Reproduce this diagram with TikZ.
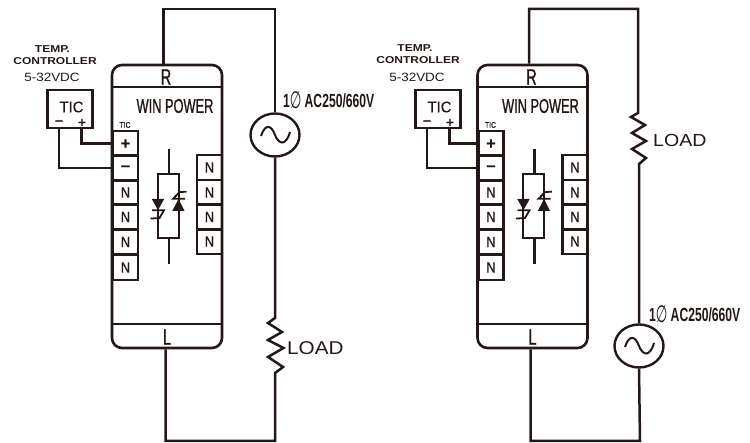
\documentclass[tikz,border=0pt]{standalone}
\usepackage{fontspec}
\setmainfont{Liberation Sans}
\newfontfamily\condf[FakeStretch=0.64,FakeBold=1]{Liberation Sans}
\newfontfamily\condb[FakeStretch=0.64]{Liberation Sans Bold}
\newfontfamily\wideb[FakeStretch=1.2]{Liberation Sans Bold}
\newfontfamily\widef[FakeStretch=1.12]{Liberation Sans}
\newfontfamily\nf[FakeStretch=0.85,FakeBold=0.8]{Liberation Sans}
\newfontfamily\ticf[FakeStretch=0.95,FakeBold=0.5]{Liberation Sans}
\newfontfamily\symf{DejaVu Sans}
\newfontfamily\symb[FakeBold=1.5]{DejaVu Sans Bold}
\usetikzlibrary{shapes.geometric}
\definecolor{ink}{HTML}{231815}
\tikzset{
  wire/.style={draw=ink,line width=2.5pt,line join=miter},
  term/.style={draw=ink,line width=2.6pt,minimum width=25pt,minimum height=25pt,inner sep=0pt,text=ink,font=\nf\fontsize{15}{15}\selectfont},
  label/.style={inner sep=0pt,text=ink,align=center},
  src/.style={draw=ink,line width=2.4pt,ellipse,minimum width=49pt,minimum height=43pt,inner sep=0pt},
  fillsym/.style={fill=ink,draw=none}
}
\newcommand{\phisym}{{\symf\fontsize{19}{19}\selectfont\raisebox{-1pt}{\scalebox{0.7}[1.25]{∅}}}}
\newcommand{\sinewave}[1]{\draw[wire,line width=2pt,shift={(#1.center)}] (-14,1) .. controls (-10,-11) and (-4,-11) .. (0,0) .. controls (4,10) and (11,11) .. (15,-3);}
\newcommand{\ctrl}[2]{%
  \begin{scope}[xshift=#2pt,name prefix=#1-]
    \node[draw=ink,line width=2.4pt,minimum width=45pt,minimum height=38pt,inner sep=0pt] (tic) at (70,109) {};
    \node[label,font=\ticf\fontsize{15.5}{15.5}\selectfont] (ticl) at (71.5,107) {TIC};
    \node[label] (minus) at (59,122.5) {\symb\fontsize{11}{11}\selectfont −};
    \node[label] (plus) at (82,122.5) {\symb\fontsize{11}{11}\selectfont +};
    \coordinate (tm) at (59,128);
    \coordinate (tp) at (81.5,128);
  \end{scope}}
\newcommand{\module}[2]{%
  \begin{scope}[xshift=#2pt,name prefix=#1-]
    \node[draw=ink,line width=2.6pt,rounded corners=10pt,minimum width=110pt,minimum height=283pt,inner sep=0pt] (body) at (167,206.5) {};
    \coordinate (rl) at (112,87); \coordinate (rr) at (222,87);
    \coordinate (ll) at (112,324); \coordinate (lr) at (222,324);
    \draw[wire] (rl) -- (rr);
    \draw[wire,line width=1.7pt] (ll) -- (lr);
    \node[label,font=\condf\fontsize{22.5}{22.5}\selectfont] (R) at (166,77) {R};
    \node[label,font=\condf\fontsize{22.5}{22.5}\selectfont] (L) at (167,337) {L};
    \node[label,font=\condf\fontsize{20}{20}\selectfont] (win) at (175,106) {WIN POWER};
    \node[label,font=\nf\fontsize{8}{8}\selectfont] (small) at (125,125) {TIC};
    \node[term] (tplus) at (125.5,143.5) {\symb\fontsize{13}{13}\selectfont +};
    \node[term] (tminus) at (125.5,168) {\symb\fontsize{13}{13}\selectfont −};
    \node[term] (n1) at (125.5,192.5) {N};
    \node[term] (n2) at (125.5,217) {N};
    \node[term] (n3) at (125.5,242) {N};
    \node[term] (n4) at (125.5,267.5) {N};
    \node[term] (m1) at (209.5,167.5) {N};
    \node[term] (m2) at (209.5,192.5) {N};
    \node[term] (m3) at (209.5,217) {N};
    \node[term] (m4) at (209.5,241.5) {N};
    % thyristor pair
    \coordinate (st) at (169,149); \coordinate (sb) at (169,264);
    \coordinate (bt) at (169,174); \coordinate (bb) at (169,238);
    \draw[wire,line width=2.2pt] (157.7,174) rectangle (178.7,238);
    \draw[wire,line width=2.2pt] (st) -- (bt);
    \draw[wire,line width=2.2pt] (bb) -- (sb);
    \fill[fillsym] (151.8,199) -- (164.2,199) -- (158,210) -- cycle;
    \fill[fillsym] (172.3,211) -- (184.6,211) -- (178.5,199) -- cycle;
    \draw[wire,line width=1.8pt] (152,210.3) -- (164,210.3) -- (159.5,218) -- (150.5,218.6);
    \draw[wire,line width=1.8pt] (185,198.8) -- (173,198.8) -- (179.5,192.2) -- (186.5,191.6);
  \end{scope}}
\begin{document}
\begin{tikzpicture}[x=1pt,y=-1pt]
\useasboundingbox (0,0) rectangle (750,443);
% ---- left diagram
\module{A}{0}
\ctrl{A}{0}
\node[label,font=\wideb\fontsize{10}{10}\selectfont] (ta1) at (52.5,49) {TEMP.};
\node[label,font=\wideb\fontsize{10}{10}\selectfont] (ta2) at (55,61) {CONTROLLER};
\node[label,font=\widef\fontsize{12}{12}\selectfont] (ta3) at (52,77) {5-32VDC};
\draw[wire] (A-tp) |- (A-tplus.west);
\draw[wire] (A-tm) |- (A-tminus.west);
\node[src] (acA) at (275,135) {};
\sinewave{acA}
\coordinate (A1) at (163.5,9);
\coordinate (A2) at (275,9);
\coordinate (A3) at (275,441);
\coordinate (A4) at (165.5,441);
\coordinate (rA) at (275,318);
\coordinate (rB) at (275,373);
\draw[wire] (A-body.north -| A1) -- (A1) -- (A2) -- (acA.north);
\draw[wire] (acA.south) -- (rA) -- (268,323) -- (282,332) -- (268,340) -- (283.5,348) -- (268,357) -- (283,367) -- (rB) -- (A3) -- (A4) -- (A-body.south -| A4);
\node[label,anchor=west] (va) at (283,100) {\condb\fontsize{19}{19}\selectfont 1\phisym\,AC250/660V};
\node[label,font=\widef\fontsize{18.5}{18.5}\selectfont,anchor=west] (la) at (287,348) {LOAD};
% ---- right diagram
\module{B}{365.5}
\ctrl{B}{368}
\node[label,font=\wideb\fontsize{10}{10}\selectfont] (tb1) at (415,48) {TEMP.};
\node[label,font=\wideb\fontsize{10}{10}\selectfont] (tb2) at (418,60) {CONTROLLER};
\node[label,font=\widef\fontsize{12}{12}\selectfont] (tb3) at (417,77) {5-32VDC};
\draw[wire] (B-tp) |- (B-tplus.west);
\draw[wire] (B-tm) |- (B-tminus.west);
\node[src] (acB) at (639,346) {};
\sinewave{acB}
\coordinate (B1) at (529,9);
\coordinate (B2) at (638,9);
\coordinate (B3) at (640,441);
\coordinate (B4) at (530.5,441);
\coordinate (sA) at (638,113);
\coordinate (sB) at (639,164);
\draw[wire] (B-body.north -| B1) -- (B1) -- (B2) -- (sA) -- (631,117) -- (645,125) -- (632,133) -- (646,141) -- (632,149) -- (646,158) -- (sB) -- (acB.north);
\draw[wire] (acB.south) -- (B3) -- (B4) -- (B-body.south -| B4);
\node[label,anchor=west] (vb) at (649,314) {\condb\fontsize{19}{19}\selectfont 1\phisym\,AC250/660V};
\node[label,font=\widef\fontsize{17.5}{17.5}\selectfont,anchor=west] (lb) at (653,140) {LOAD};
\end{tikzpicture}
\end{document}
